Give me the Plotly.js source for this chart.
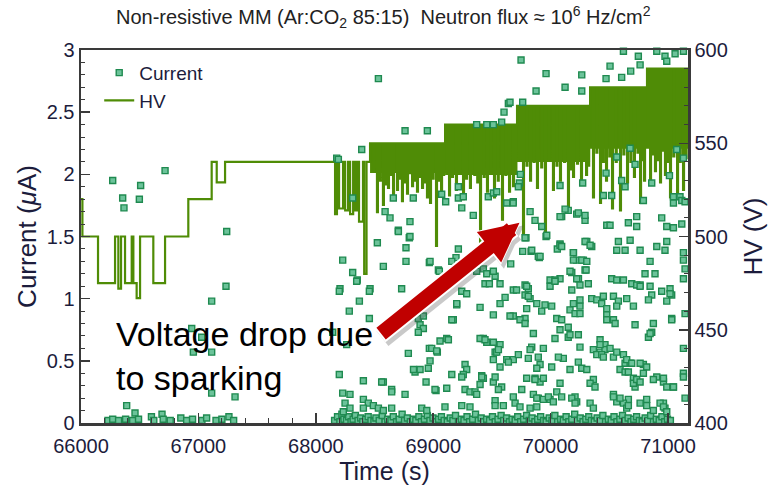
<!DOCTYPE html>
<html>
<head>
<meta charset="utf-8">
<script src="https://cdn.plot.ly/plotly-3.0.1.min.js"></script>
<style>html,body{margin:0;padding:0;background:#fff;}#chart{width:768px;height:489px;}</style>
</head>
<body>
<div id="chart"></div>
<script>
// ---------- DATA ----------
const titleText = 'Non-resistive MM (Ar:CO<sub>2</sub> 85:15)  Neutron flux ≈ 10<sup>6</sup> Hz/cm<sup>2</sup>';
const xTickVals = [66000, 67000, 68000, 69000, 70000, 71000];

// HV set levels / slow steps (time s, volts)
const stepTime = [66000,66012,66145,66290,66318,66341,66375,66432,66446,66474,66503,66616,66716,66914,67113,67156,67227,
  68164,68180,68198,68232,68250,68275,68292,68318,68335,68352,68368,68402,68412,68432,
  68462,69101,69714,70336,70821,71170];
const stepVolt = [520,500,475,500,472,500,475,500,475,467,500,475,500,520,540,529,540,
  512,540,515,540,514,540,512,540,514,540,508,540,480,540,
  550,560,570,580,590,590];
// short discharge dips of the HV (start time s, lowest volts)
const dipTime = [68490,68521,68545,68572,68595,68615,68637,68658,68692,68712,68734,68755,68777,68798,68820,68842,68862,68885,
  68905,68925,68947,68973,68995,69024,69045,69067,69085,
  69118,69135,69160,69194,69220,69254,69280,69313,69350,69375,69399,69430,69458,69490,69518,69550,69586,69615,69646,69680,69700,
  69740,69765,69795,69825,69855,69884,69920,69952,69985,70020,70050,70080,70115,70148,70170,70191,70225,70259,70280,70302,70320,
  70361,70390,70421,70445,70472,70500,70523,70555,70591,70620,70651,70680,70710,70740,70762,70780,70796,
  70847,70868,70889,70910,70932,70955,70974,70995,71017,71045,71077,71100,71128,71150];
const dipVolt = [536,513,530,517,528,526,533,521,525,531,519,529,523,534,527,530,524,532,
  526,529,521,518,531,495,530,525,533,
  535,522,532,525,534,520,531,526,533,529,496,532,524,534,521,530,509,533,524,527,535,
  542,500,538,530,540,526,537,500,541,525,538,530,540,514,536,532,539,528,541,533,538,
  521,545,518,540,530,543,515,540,514,544,529,540,532,545,518,541,530,
  530,544,535,541,529,546,533,540,521,543,521,540,525,542];
const dipLength = 8; // seconds

// dense HV oscillation band (upper level and lower envelope)
const bandTime = [68462, 69101, 69714, 70336, 70821, 71170];
const bandTop  = [550, 560, 570, 580, 590, 590];
const bandLow  = [534, 533, 540, 547, 547, 547];

// Current (time s, µA)
const currentLeft = [[66270,1.95],[66355,1.81],[66366,1.73],[66497,1.80],[66508,1.91],[66716,2.03],[67241,1.54],[67235,1.10],
  [67113,0.98],[66943,0.76],[67028,0.69],[66957,0.57],[67113,0.57],[67113,0.24],[67312,0.21],[66389,0.14],[66460,0.08],
  [66230,0.02],[66270,0.03],[66320,0.02],[66380,0.03],[66440,0.02],[66490,0.03],[66600,0.05],[66620,0.02],[66690,0.07],
  [66700,0.03],[66760,0.02],[66850,0.04],[66900,0.02],[66950,0.03],[67030,0.02],[67070,0.04],[67150,0.02],[67200,0.03],
  [67260,0.05],[67300,0.02]];
const currentHigh = [[68178,2.13],[68192,2.12],[68391,2.20],[68533,2.77],[68760,2.35],[68950,2.35],[69370,2.40],[69456,2.40],
  [69512,2.40],[69583,2.42],[69603,2.50],[69640,2.57],[69654,2.58],[69748,2.92],[69762,2.58],[69876,2.67],[69961,2.81],
  [70123,2.70],[70265,2.80],[70265,2.67],[70472,2.77],[70506,2.87],[70605,2.78],[70682,2.83],[70747,2.95],[70762,2.88],
  [70620,2.99],[70904,2.99],[70974,2.95],[70989,2.91],[71060,2.97],[71131,2.99],
  [69742,2.00],[69734,1.93],[69725,1.90],[70472,2.01],[70563,2.14],[70677,2.21],[70719,2.08],[70861,1.93],[70605,1.95],
  [71012,1.99],[71074,2.20],[71131,2.13],[70273,1.93],[70080,1.91],[70449,1.83],[70520,1.83],[70634,1.90],[70790,1.79],
  [71046,1.82],[71117,1.79],[71145,1.78],[71046,1.77],[69214,1.90],[69214,1.81],[69256,1.82],[69243,1.73],[69106,1.78],
  [69072,1.84],[69341,1.67],[69469,1.82],[69512,1.85],[69541,1.86],[69626,1.77],[69681,1.77],[68314,1.81],[68660,1.81],
  [68590,1.70],[68632,1.65],[68830,1.81],[68802,1.62],[68703,1.54],[68802,1.50]];
const currentMid = [[69825,1.70],[69867,1.63],[69924,1.58],[69961,1.50],[69790,1.49],[69762,1.38],[69833,1.38],[69904,1.33],
  [70094,1.66],[70222,1.68],[70293,1.63],[70150,1.71],[70478,1.59],[70080,1.44],[70057,1.40],[70308,1.46],[70350,1.42],
  [70194,1.37],[70222,1.31],[70279,1.31],[70293,1.23],[70180,1.21],[70237,1.16],[70080,1.16],[69995,1.15],[70037,1.15],
  [69895,1.34],[69660,1.28],[69527,1.18],[69427,1.24],[69456,1.20],[69194,1.33],[69214,1.40],[69158,1.30],[68967,1.29],
  [69044,1.23],[68768,1.30],[68768,1.41],[68796,1.49],[68703,1.55],[68524,1.45],[68575,1.26],[68314,1.21],[68229,1.31],
  [68353,1.15],[68462,1.08],[68206,1.08],[68731,1.08],[68348,1.14],[68200,1.06],[68456,1.06],[68371,0.98],[68285,0.90],
  [68456,0.84],[68144,0.73],[68263,0.63],[68973,1.30],[69052,1.22],[69299,1.27],[69441,1.12],[69478,1.12],[69370,1.22],
  [69512,1.22],[69569,1.12],[69612,1.01],[69569,0.96],[69243,1.06],[69285,1.04],[69200,0.95],[69399,0.93],[69512,0.87],
  [69171,0.83],[68873,0.84],[68888,0.79],[68916,0.76],[68873,0.73],[69058,0.66],[69115,0.68],[68967,0.60],[69035,0.57],
  [69427,0.68],[69456,0.65],[69569,0.63],[69527,0.57],[69626,0.51],[68788,0.56],[68973,0.50],[68958,0.44],[68845,0.41],
  [68888,0.43],[69158,0.39],[69271,0.47],[69285,0.43],[69256,0.39],[69413,0.38],[69427,0.36],[69512,0.33],[69583,0.29],
  [68200,0.39],[68405,0.34],[68575,0.33],[68646,0.27],[68939,0.33],[69024,0.26],[69271,0.27],[69313,0.25],[69356,0.25],
  [68229,0.24],[68291,0.23],[68405,0.19],[68447,0.16],[68490,0.14],[68533,0.12],[68575,0.10],[68646,0.12],[68902,0.12],
  [68945,0.10],[69100,0.13],[69243,0.14],[69313,0.13],[69527,0.18],[69597,0.14],[68249,0.16],[68291,0.12],[68234,0.09],
  [68405,0.12]];
const currentRight = [[69782,1.49],[70080,1.43],[70094,1.42],[69910,1.34],[69839,1.39],[70293,1.46],[70336,1.43],[70194,1.37],
  [70194,1.31],[70265,1.31],[70308,1.30],[70165,1.22],[70222,1.16],[70302,1.23],[70250,1.11],[70321,1.12],[69995,1.10],
  [70037,1.14],[69782,1.11],[69810,1.08],[69782,1.03],[69825,1.00],[69682,1.07],[69710,1.07],[69882,0.96],[69924,0.90],
  [69952,0.95],[70009,0.94],[70165,0.91],[70208,0.88],[70250,0.94],[70250,0.99],[70350,1.00],[70393,0.99],[70449,1.02],
  [70435,0.96],[70478,0.92],[70478,0.87],[70478,0.83],[70520,1.16],[70563,1.15],[70620,1.15],[70535,1.02],[70577,0.98],
  [70563,0.94],[70648,1.00],[70705,0.94],[70691,1.12],[70762,1.11],[70577,1.46],[70563,1.39],[70634,1.39],[70677,1.47],
  [70762,1.39],[70847,1.30],[70804,1.20],[70889,1.20],[70847,1.10],[70861,1.03],[70833,0.99],[70946,1.06],[71017,1.08],
  [71031,1.03],[70904,1.42],[70989,1.46],[70974,1.39],[71131,1.31],[71145,1.24],[71131,1.16],[71031,0.84],[71145,0.88],
  [70719,0.79],[70861,0.73],[70833,0.69],[71131,0.60],[70421,0.67],[70463,0.63],[70421,0.57],[70463,0.59],[70506,0.60],
  [70620,0.55],[70634,0.48],[70677,0.48],[70591,0.43],[70634,0.41],[70662,0.41],[70790,0.47],[70705,0.36],[70719,0.29],
  [70904,0.37],[70961,0.33],[71046,0.29],[71131,0.40],[71145,0.20],[70818,0.19],[70875,0.10],[70662,0.19],[70620,0.16],
  [70535,0.23],[70563,0.17],[70961,0.16],[70974,0.12],[70364,0.35],[70336,0.32],[70378,0.29],[70208,0.21],[70222,0.17],
  [70336,0.16],[70364,0.12],[70080,0.32],[70052,0.25],[70094,0.21],[69867,0.36],[69910,0.33],[69938,0.36],[69754,0.27],
  [69853,0.23],[69895,0.20],[69938,0.19],[69995,0.19],[69697,0.16],[69825,0.12],[69882,0.13],[69810,0.52],[69910,0.47],
  [70009,0.45],[70108,0.52],[70165,0.43],[70236,0.49],[70265,0.44],[70308,0.43],[69682,0.51],[69839,0.61],[69938,0.60],
  [70037,0.68],[70150,0.69],[70236,0.71],[70250,0.61],[70052,0.84],[70080,0.75],[70165,0.71],[69782,0.84],[69682,0.86],
  [69967,1.51],[70506,1.59],[70662,1.61],[70733,1.66],[70733,1.58],[70946,1.65],[70989,1.58],[71046,1.57],[71117,1.60],
  [70236,1.69],[70293,1.67],[70080,1.66],[70123,1.72],[69682,1.78],[71102,1.82],[71131,1.37],
  [68888,0.94],[68916,0.86],[69200,0.96],[69158,0.83],[69129,0.67],[68987,0.60],[69029,0.58],[68832,0.43],[69243,0.37],
  [68561,0.33],[68646,0.25],[68760,0.23],[69115,0.28],[69015,0.27],[69370,0.23],[69413,0.37],[69399,0.31],[69555,0.27],
  [69527,0.37],[69569,0.45],[69512,0.51],[69640,0.49],[69399,0.68],[69441,0.67],[69512,0.65],[69541,0.57],[69555,0.59],
  [69654,0.86],[69739,0.83],[69782,0.80],[69796,1.10],[69810,1.02],[69796,0.92],[69853,0.72],[69725,0.55],[69825,0.59],
  [69895,0.53],[69882,0.44],[70066,0.53],[69796,0.36],[69867,0.35],[69981,0.21],[70023,0.17],[69882,0.20],[69682,0.21],
  [69527,0.14],[69739,0.13],[70180,0.20],[70208,0.16],[70250,0.88],[70194,0.96],[70180,1.07],[70094,0.83],[70150,0.77],
  [70364,0.59],[70393,0.55],[70421,0.63],[70435,0.55],[70535,0.83],[70549,0.80],[70449,0.53],[70535,0.53],[70563,0.57],
  [70648,0.51],[70691,0.48],[70762,0.48],[70818,0.45],[70705,0.32],[70733,0.35],[70762,0.33],[70790,0.40],[70875,0.35],
  [70961,0.36],[70989,0.29],[71046,0.29],[70535,0.21],[70591,0.20],[70648,0.12],[70662,0.14],[70762,0.16],[70818,0.14],
  [70932,0.16],[70961,0.13],[70989,0.09],[71031,0.83],[71131,0.37],[70875,0.80],[70847,0.72],[70989,0.98],[71017,1.04],
  [70733,1.11],[70762,1.10]];
const currentBase = [[68160,0.02],[68185,0.05],[68205,0.01],[68222,0.07],[68240,0.03],[68262,0.02],[68280,0.05],[68300,0.01],
  [68318,0.03],[68337,0.06],[68360,0.02],[68382,0.04],[68400,0.01],[68425,0.03],[68446,0.05],[68470,0.02],[68495,0.01],
  [68512,0.04],[68540,0.02],[68566,0.06],[68590,0.01],[68612,0.03],[68640,0.02],[68660,0.05],[68688,0.01],[68710,0.03],
  [68735,0.07],[68756,0.02],[68780,0.04],[68805,0.01],[68830,0.03],[68852,0.02],[68878,0.05],[68900,0.01],[68925,0.03],
  [68950,0.06],[68972,0.02],[68998,0.04],[69020,0.01],[69046,0.03],[69070,0.05],[69093,0.02],[69120,0.01],[69145,0.04],
  [69168,0.02],[69190,0.06],[69215,0.01],[69240,0.03],[69262,0.02],[69288,0.05],[69310,0.01],[69336,0.03],[69360,0.07],
  [69384,0.02],[69408,0.04],[69430,0.01],[69455,0.03],[69480,0.02],[69505,0.05],[69528,0.01],[69552,0.03],[69578,0.06],
  [69600,0.02],[69625,0.04],[69650,0.01],[69672,0.03],[69698,0.02],[69720,0.05],[69745,0.01],[69770,0.03],[69795,0.06],
  [69818,0.02],[69842,0.04],[69866,0.01],[69890,0.03],[69915,0.05],[69940,0.02],[69962,0.01],[69988,0.04],[70012,0.02],
  [70036,0.06],[70060,0.01],[70085,0.03],[70108,0.02],[70132,0.05],[70155,0.01],[70180,0.03],[70205,0.07],[70228,0.02],
  [70252,0.04],[70276,0.01],[70300,0.03],[70325,0.05],[70348,0.02],[70372,0.01],[70396,0.04],[70420,0.02],[70445,0.06],
  [70468,0.01],[70492,0.03],[70516,0.02],[70540,0.05],[70565,0.01],[70590,0.03],[70612,0.06],[70636,0.02],[70660,0.04],
  [70685,0.01],[70708,0.03],[70732,0.05],[70756,0.02],[70780,0.01],[70805,0.04],[70828,0.02],[70852,0.06],[70876,0.01],
  [70900,0.03],[70925,0.02],[70948,0.05],[70972,0.01],[70995,0.03],[71020,0.02]];

// annotation: arrow from text to a voltage drop
const noteText = 'Voltage drop due<br>to sparking';
const arrowTail = [68530, 0.70];
const arrowTip  = [69748, 1.62];

// ---------- BUILD HV LINE (steps + dips, no invented values) ----------
const hvEvents = stepTime.map((t, i) => ({t: t, v: stepVolt[i], dip: false}))
  .concat(dipTime.map((t, i) => ({t: t, v: dipVolt[i], dip: true})))
  .sort((a, b) => a.t - b.t);
const hvX = [], hvY = [];
let level = stepVolt[0];
hvEvents.forEach(e => {
  if (e.dip) { hvX.push(e.t, e.t + dipLength); hvY.push(e.v, level); }
  else { hvX.push(e.t); hvY.push(e.v); level = e.v; }
});

// ---------- STYLE ----------
const FONT = 'Liberation Sans, Arial, Helvetica, sans-serif';
const TXT = '#1c1c3c';
const HVCOL = '#4f8c06';
const CURCOL = '#1f8a50';
const AX = '#3a3a3a';

const allCurrent = currentLeft.concat(currentBase, currentMid, currentRight, currentHigh);

const traces = [
  { x: bandTime, y: bandTop, yaxis: 'y', mode: 'lines', line: {shape: 'hv', width: 0, color: HVCOL},
    showlegend: false, hoverinfo: 'skip' },
  { x: bandTime, y: bandLow, yaxis: 'y', mode: 'lines', line: {shape: 'hv', width: 0, color: HVCOL},
    fill: 'tonexty', fillcolor: HVCOL, showlegend: false, hoverinfo: 'skip' },
  { x: hvX, y: hvY, yaxis: 'y', name: 'HV', mode: 'lines',
    line: {shape: 'hv', width: 2.2, color: HVCOL} },
  { x: allCurrent.map(p => p[0]), y: allCurrent.map(p => p[1]), yaxis: 'y2', name: 'Current', mode: 'markers',
    cliponaxis: false,
    marker: {symbol: 'square', size: 6, color: '#6cc39a', line: {color: CURCOL, width: 1.4}} }
];

const tickStyle = {ticks: 'inside', tickcolor: AX, tickwidth: 1.5, showline: true, linecolor: AX, linewidth: 2.5,
  showgrid: false, zeroline: false, tickfont: {family: FONT, size: 20, color: TXT}};

const layout = {
  width: 768, height: 489,
  margin: {l: 81, r: 80, t: 50, b: 66},
  paper_bgcolor: '#fff', plot_bgcolor: '#fff',
  font: {family: FONT, color: TXT},
  title: {text: titleText, font: {family: FONT, size: 20, color: '#222'}, xref: 'container', yref: 'container',
    x: 0.499, xanchor: 'center', y: 0.965, yanchor: 'middle'},
  xaxis: Object.assign({}, tickStyle, {range: [66000, 71170], tickvals: xTickVals, tickformat: 'd', ticklen: 10,
    mirror: true, ticklabelstandoff: 3,
    minor: {dtick: 200, ticks: 'inside', ticklen: 5, tickcolor: AX, tickwidth: 1},
    title: {text: 'Time (s)', font: {family: FONT, size: 25, color: TXT}, standoff: 0}}),
  yaxis: Object.assign({}, tickStyle, {side: 'right', range: [400, 600], dtick: 50, ticklen: 9,
    minor: {dtick: 10, ticks: 'inside', ticklen: 4, tickcolor: AX, tickwidth: 1},
    title: {text: 'HV (V)', font: {family: FONT, size: 26, color: TXT}, standoff: 17}}),
  yaxis2: Object.assign({}, tickStyle, {overlaying: 'y', side: 'left', range: [0, 3], dtick: 0.5, ticklen: 9,
    minor: {dtick: 0.1, ticks: 'inside', ticklen: 4, tickcolor: AX, tickwidth: 1},
    title: {text: 'Current (<i>μ</i>A)', font: {family: FONT, size: 26, color: TXT}, standoff: 3}}),
  legend: {x: 0.03, y: 0.99, xanchor: 'left', yanchor: 'top', bgcolor: 'rgba(0,0,0,0)', traceorder: 'reversed',
    font: {family: FONT, size: 19, color: TXT}, tracegroupgap: 0},
  annotations: [
    {xref: 'paper', yref: 'paper', x: 0.054, y: 0.18, xanchor: 'left', yanchor: 'middle', align: 'left',
      text: noteText, showarrow: false, font: {family: FONT, size: 34, color: '#000'}},
    {xref: 'x', yref: 'y2', axref: 'x', ayref: 'y2', x: arrowTip[0] + 25, y: arrowTip[1] - 0.03,
      ax: arrowTail[0] + 25, ay: arrowTail[1] - 0.03, text: '', showarrow: true, arrowhead: 2, arrowsize: 0.45,
      arrowwidth: 19, arrowcolor: 'rgba(80,80,80,0.3)', standoff: 0, startstandoff: 0},
    {xref: 'x', yref: 'y2', axref: 'x', ayref: 'y2', x: arrowTip[0], y: arrowTip[1], ax: arrowTail[0], ay: arrowTail[1],
      text: '', showarrow: true, arrowhead: 2, arrowsize: 0.45, arrowwidth: 19, arrowcolor: '#ffffff',
      standoff: 0, startstandoff: 0},
    {xref: 'x', yref: 'y2', axref: 'x', ayref: 'y2', x: arrowTip[0], y: arrowTip[1], ax: arrowTail[0], ay: arrowTail[1],
      text: '', showarrow: true, arrowhead: 2, arrowsize: 0.52, arrowwidth: 15, arrowcolor: '#c00000',
      standoff: 2, startstandoff: 2}
  ]
};

Plotly.newPlot('chart', traces, layout, {staticPlot: true, displayModeBar: false});
</script>
</body>
</html>
